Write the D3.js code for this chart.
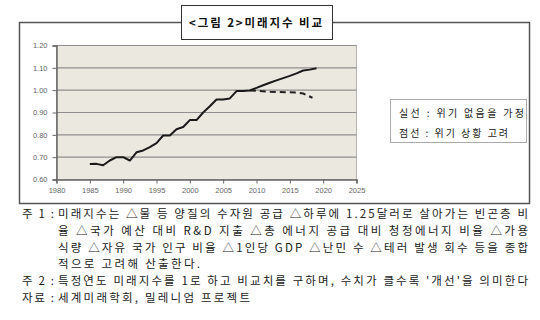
<!DOCTYPE html>
<html>
<head>
<meta charset="utf-8">
<script src="https://cdn.jsdelivr.net/npm/d3@7"></script>
<style>
body { margin: 0; background: #fff; }
svg { display: block; }
</style>
</head>
<body>
<div class="chart"></div>
<script>
// solid line: no crisis assumed
var solidYears = [1985, 1986, 1987, 1988, 1989, 1990, 1991, 1992, 1993, 1994, 1995, 1996, 1997, 1998, 1999,
	2000, 2001, 2002, 2003, 2004, 2005, 2006, 2007, 2008, 2009, 2010, 2011, 2012, 2013, 2014, 2015, 2016, 2017, 2018, 2019];
var solidValues = [0.669, 0.670, 0.664, 0.685, 0.700, 0.700, 0.685, 0.722, 0.730, 0.745, 0.763, 0.797, 0.797, 0.825, 0.835,
	0.866, 0.866, 0.900, 0.928, 0.958, 0.958, 0.963, 0.996, 0.996, 0.999, 1.010, 1.022, 1.033, 1.044, 1.054, 1.064, 1.075, 1.088, 1.092, 1.098];
// dashed line: crisis considered
var dashYears = [2009, 2012, 2016, 2017, 2018.4];
var dashValues = [0.999, 0.993, 0.990, 0.985, 0.966];

var yTicks = [0.6, 0.7, 0.8, 0.9, 1.0, 1.1, 1.2];
var xTicks = [1980, 1985, 1990, 1995, 2000, 2005, 2010, 2015, 2020, 2025];

var titleText = "<그림 2>미래지수 비교";
var legendLines = ["실선 : 위기 없음을 가정", "점선 : 위기 상황 고려"];
var legendWidths = [125, 109];
var notes = [
	{ label: "주 1 :", text: "미래지수는 △물 등 양질의 수자원 공급 △하루에 1.25달러로 살아가는 빈곤층 비", end: 528 },
	{ label: "", text: "율 △국가 예산 대비 R&D 지출 △총 에너지 공급 대비 청정에너지 비율 △가용", end: 528 },
	{ label: "", text: "식량 △자유 국가 인구 비율 △1인당 GDP △난민 수 △테러 발생 회수 등을 종합", end: 528 },
	{ label: "", text: "적으로 고려해 산출한다.", end: 200 },
	{ label: "주 2 :", text: "특정연도 미래지수를 1로 하고 비교치를 구하며, 수치가 클수록 '개선'을 의미한다", end: 528 },
	{ label: "자료 :", text: "세계미래학회, 밀레니엄 프로젝트", end: 250 }
];

var W = 540, H = 320;
var svg = d3.select(".chart").append("svg")
	.attr("width", W)
	.attr("height", H);

// outer frame
svg.append("rect")
	.attr("x", 19.5).attr("y", 22.5)
	.attr("width", 510).attr("height", 181)
	.attr("fill", "none")
	.attr("stroke", "#555")
	.attr("stroke-width", 1.5);

// title box
svg.append("rect")
	.attr("x", 181.5).attr("y", 5.5)
	.attr("width", 151).attr("height", 34)
	.attr("fill", "#fff")
	.attr("stroke", "#333")
	.attr("stroke-width", 1);
svg.append("text")
	.attr("x", 189).attr("y", 27)
	.attr("textLength", 133)
	.attr("lengthAdjust", "spacing")
	.attr("font-family", "'Noto Sans CJK KR', sans-serif")
	.attr("font-weight", "bold")
	.attr("font-size", 11.5)
	.attr("fill", "#111")
	.text(titleText);

// plot area
var plot = { left: 56.5, top: 45.5, right: 356.5, bottom: 179.5 };
var x = d3.scaleLinear().domain([1980, 2025]).range([plot.left, plot.right]);
var y = d3.scaleLinear().domain([0.6, 1.2]).range([plot.bottom, plot.top]);

svg.append("rect")
	.attr("x", plot.left).attr("y", plot.top)
	.attr("width", plot.right - plot.left)
	.attr("height", plot.bottom - plot.top)
	.attr("fill", "#ebe8df")
	.attr("stroke", "#b5b3ad")
	.attr("stroke-width", 1);

// gridlines
svg.append("g")
	.selectAll("line")
	.data(yTicks.slice(1))
	.enter()
	.append("line")
	.attr("x1", plot.left).attr("x2", plot.right)
	.attr("y1", function (d) { return y(d); })
	.attr("y2", function (d) { return y(d); })
	.attr("stroke", "#8f8f8f")
	.attr("stroke-width", 1.2);

var yAxis = svg.append("g")
	.attr("transform", "translate(" + plot.left + ",0)")
	.call(d3.axisLeft(y).tickValues(yTicks).tickFormat(d3.format(".2f")).tickSize(4).tickPadding(5));
var xAxis = svg.append("g")
	.attr("transform", "translate(0," + plot.bottom + ")")
	.call(d3.axisBottom(x).tickValues(xTicks).tickFormat(d3.format("d")).tickSize(4).tickPadding(4));

[yAxis, xAxis].forEach(function (g) {
	g.select(".domain").attr("stroke", "#666").attr("stroke-width", 1.5);
	g.selectAll(".tick line").attr("stroke", "#666");
	g.selectAll(".tick text")
		.attr("fill", "#666")
		.attr("font-family", "Arial, 'Liberation Sans', sans-serif")
		.attr("font-size", 7.5);
});

var line = d3.line()
	.x(function (d) { return x(d[0]); })
	.y(function (d) { return y(d[1]); });

svg.append("path")
	.datum(dashYears.map(function (yr, i) { return [yr, dashValues[i]]; }))
	.attr("d", line)
	.attr("fill", "none")
	.attr("stroke", "#222")
	.attr("stroke-width", 2)
	.attr("stroke-dasharray", "6,4");

svg.append("path")
	.datum(solidYears.map(function (yr, i) { return [yr, solidValues[i]]; }))
	.attr("d", line)
	.attr("fill", "none")
	.attr("stroke", "#1a1a1a")
	.attr("stroke-width", 2)
	.attr("stroke-linejoin", "round");

// legend box
svg.append("rect")
	.attr("x", 390.5).attr("y", 99.5)
	.attr("width", 136).attr("height", 43)
	.attr("fill", "#fff")
	.attr("stroke", "#555")
	.attr("stroke-width", 1)
	.attr("stroke-dasharray", "1,1");
svg.selectAll(".legend")
	.data(legendLines)
	.enter()
	.append("text")
	.attr("class", "legend")
	.attr("x", 399)
	.attr("y", function (d, i) { return 117 + i * 20; })
	.attr("textLength", function (d, i) { return legendWidths[i]; })
	.attr("lengthAdjust", "spacing")
	.attr("font-family", "'Noto Sans CJK KR', sans-serif")
	.attr("font-size", 10)
	.attr("fill", "#222")
	.text(function (d) { return d; });

// footnotes
var noteFont = "'Noto Sans CJK KR', sans-serif";
var notesG = svg.append("g")
	.attr("font-family", noteFont)
	.attr("font-size", 11.5)
	.attr("fill", "#222");
notes.forEach(function (n, i) {
	var yy = 218 + i * 16.8;
	if (n.label) {
		notesG.append("text")
			.attr("x", 22).attr("y", yy)
			.attr("textLength", 32)
			.attr("lengthAdjust", "spacing")
			.text(n.label);
	}
	var bodyX = 58;
	notesG.append("text")
		.attr("x", bodyX).attr("y", yy)
		.attr("textLength", n.end - bodyX)
		.attr("lengthAdjust", "spacing")
		.text(n.text);
});
</script>
</body>
</html>
